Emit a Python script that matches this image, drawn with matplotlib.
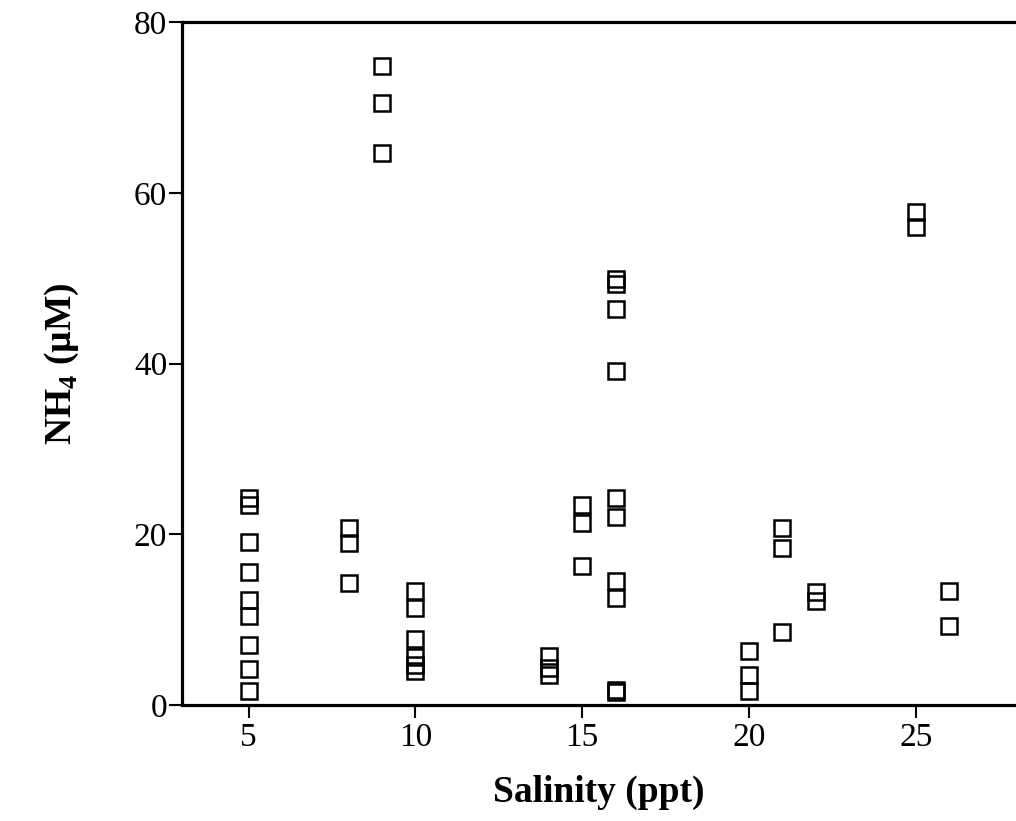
import matplotlib
matplotlib.use("Agg")
import matplotlib.pyplot as plt

# salinity (ppt) and NH4 (uM)
salinity = [5, 5, 5, 5, 5, 5, 5, 5, 5,
            8, 8, 8,
            9, 9, 9,
            10, 10, 10, 10, 10, 10,
            14, 14, 14,
            15, 15, 15,
            16, 16, 16, 16, 16, 16, 16, 16, 16, 16,
            20, 20, 20,
            21, 21, 21,
            22, 22,
            25, 25,
            26, 26]
nh4 = [24.3, 23.5, 19.1, 15.6, 12.3, 10.5, 7.1, 4.2, 1.7,
       20.8, 19.0, 14.3,
       74.9, 70.5, 64.7,
       13.4, 11.4, 7.7, 5.6, 4.7, 4.0,
       5.8, 4.4, 3.5,
       23.5, 21.4, 16.3,
       49.9, 49.3, 46.4, 39.1, 24.3, 22.0, 14.5, 12.6, 1.8, 1.5,
       6.4, 3.6, 1.7,
       20.7, 18.4, 8.6,
       13.3, 12.2,
       57.8, 56.0,
       13.4, 9.3]

xticks = [5, 10, 15, 20, 25]
yticks = [0, 20, 40, 60, 80]

plt.rcParams['font.family'] = ['Liberation Serif', 'DejaVu Serif']
plt.rcParams['mathtext.fontset'] = 'custom'
plt.rcParams['mathtext.rm'] = 'Liberation Serif'
plt.rcParams['mathtext.bf'] = 'Liberation Serif:bold'

fig = plt.figure(figsize=(10.16, 8.21), dpi=100)
ax = fig.add_axes([0.179, 0.141, 0.821, 0.832])

ax.plot(salinity, nh4, linestyle='none', marker='s', markersize=11,
        markerfacecolor='none', markeredgecolor='black', markeredgewidth=1.8,
        clip_on=False)

ax.set_xlim(3, 28)
ax.set_ylim(0, 80)
ax.set_xticks(xticks)
ax.set_yticks(yticks)

for side in ['left', 'bottom', 'top']:
    ax.spines[side].set_linewidth(2.3)
ax.spines['right'].set_visible(False)

ax.tick_params(axis='both', direction='out', length=9.5, width=1.5,
               labelsize=24, colors='black')
ax.tick_params(axis='y', pad=1)
ax.tick_params(axis='x', pad=3)

ax.set_xlabel('Salinity (ppt)', fontsize=27, fontweight='bold', labelpad=16)
ax.set_ylabel(r'NH$_\mathbf{4}$ (µM)', fontsize=27, fontweight='bold', labelpad=38)

fig.savefig('out.png', dpi=100)
